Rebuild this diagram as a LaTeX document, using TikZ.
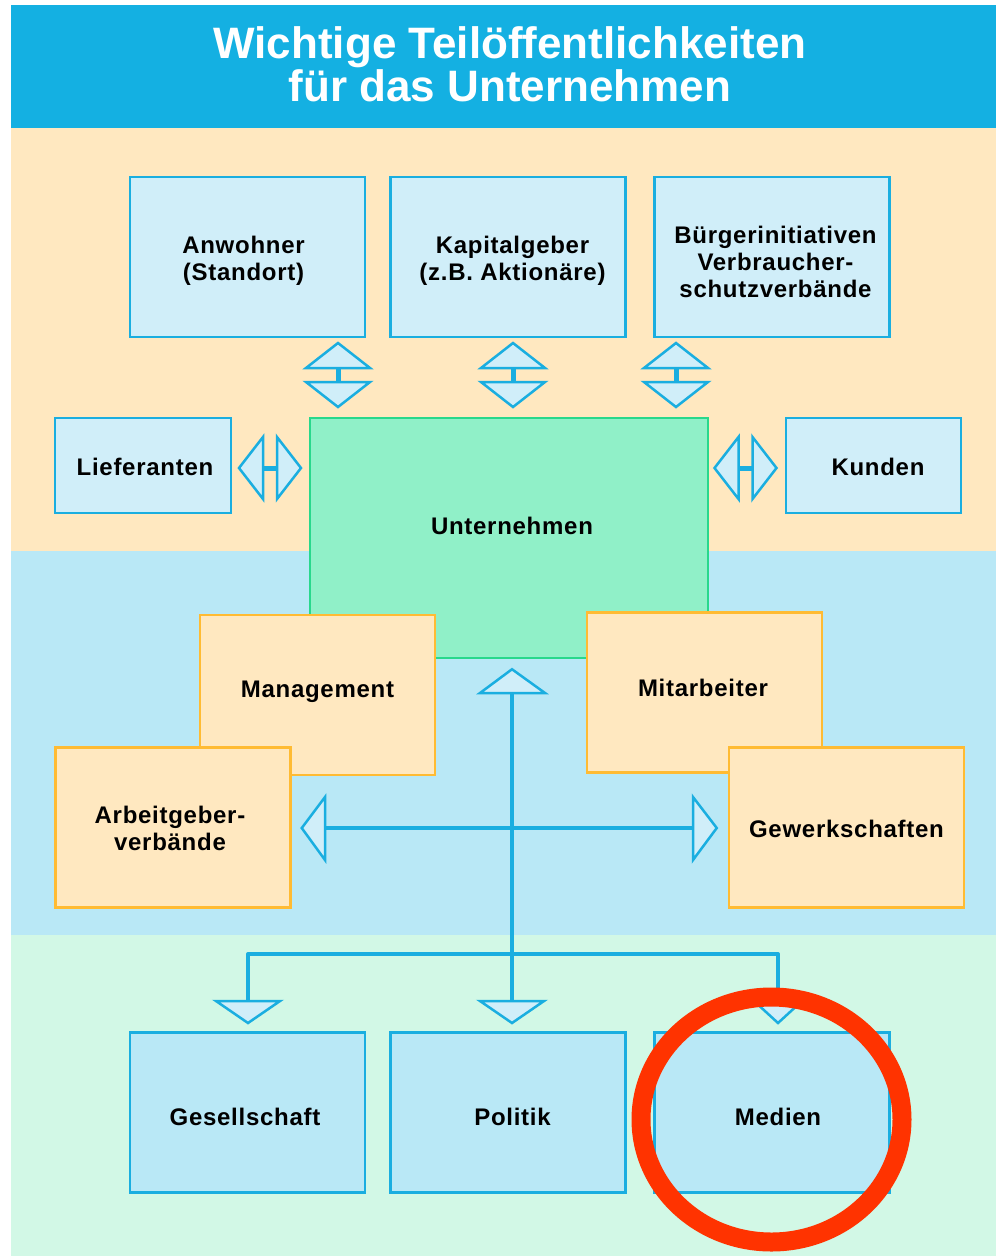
\documentclass[tikz,border=0pt]{standalone}
\usepackage{fontspec}
\setmainfont{Liberation Sans}
\usetikzlibrary{calc}
\definecolor{hdr}{RGB}{20,176,226}
\definecolor{beige}{RGB}{255,232,192}
\definecolor{midb}{RGB}{185,232,246}
\definecolor{botg}{RGB}{210,248,230}
\definecolor{lightbox}{RGB}{208,238,249}
\definecolor{cyanline}{RGB}{26,174,224}
\definecolor{untfill}{RGB}{144,240,200}
\definecolor{untline}{RGB}{40,216,140}
\definecolor{orline}{RGB}{255,187,51}
\definecolor{redring}{RGB}{255,51,0}
\newcommand\boxfont{\fontsize{24}{27}\selectfont\bfseries\addfontfeature{LetterSpace=3}}
\begin{document}
\begin{tikzpicture}[x=1pt,y=-1pt,
  basebox/.style={line width=2.5pt, inner sep=0pt},
  bluebox/.style={basebox, draw=cyanline, fill=lightbox},
  bottombox/.style={basebox, draw=cyanline, fill=midb},
  orbox/.style={basebox, draw=orline, fill=beige},
  untbox/.style={basebox, draw=untline, fill=untfill},
  big/.style={minimum width=235, minimum height=160},
  txt/.style={font=\boxfont, text=black, align=center, inner sep=0pt},
  tri/.style={draw=cyanline, fill=lightbox, line width=2.5pt, line join=miter},
  stem/.style={draw=cyanline, line width=5pt},
  conn/.style={draw=cyanline, line width=4pt},
  vdbl/.pic={
    \draw[stem] (0,-7) -- (0,7);
    \draw[tri] (-32,-7) -- (0,-32) -- (32,-7) -- cycle;
    \draw[tri] (-32,7) -- (0,32) -- (32,7) -- cycle;},
  hdbl/.pic={
    \draw[stem] (-7,0) -- (7,0);
    \draw[tri] (-7,-31) -- (-31,0) -- (-7,31) -- cycle;
    \draw[tri] (7,-31) -- (31,0) -- (7,31) -- cycle;}
]
\path[use as bounding box] (0,0) rectangle (996,1256);
\fill[white] (0,0) rectangle (996,1256);
% bands
\fill[hdr] (11,5) rectangle (996,128);
\fill[beige] (11,128) rectangle (996,551);
\fill[midb] (11,551) rectangle (996,935);
\fill[botg] (11,935) rectangle (996,1256);
% title
\node[anchor=base, text=white, font=\fontsize{44}{43}\selectfont\bfseries] (title1) at (510,58.5) {Wichtige Teilöffentlichkeiten};
\node[anchor=base, text=white, font=\fontsize{44}{43}\selectfont\bfseries] (title2) at (510,101.5) {für das Unternehmen};
% central company
\node[untbox, minimum width=398, minimum height=240,
  label={[txt, name=untT, xshift=3pt, yshift=12pt]center:Unternehmen}] (unt) at (509,538) {};
% orange boxes
\node[orbox, big, label={[txt, name=manT, yshift=3pt]center:Management}] (man) at (317.5,695) {};
\node[orbox, big, label={[txt, name=mitT, xshift=-1.5pt, yshift=5pt]center:Mitarbeiter}] (mit) at (704.5,692.5) {};
\node[orbox, big, label={[txt, name=agvT, xshift=-3pt, yshift=-1pt]center:{Arbeitgeber-\\verbände}}] (agv) at (173,827.5) {};
\node[orbox, big, label={[txt, name=gewT, yshift=-1pt]center:Gewerkschaften}] (gew) at (846.5,827.5) {};
% top boxes
\node[bluebox, big, label={[txt, name=anwT, xshift=-4pt, yshift=-4pt]center:{Anwohner\\(Standort)}}] (anw) at (247.5,257) {};
\node[bluebox, big, label={[txt, name=kapT, xshift=4.5pt, yshift=-4pt]center:{Kapitalgeber\\(z.B. Aktionäre)}}] (kap) at (508,257) {};
\node[bluebox, big, label={[txt, name=bueT, xshift=3.5pt, yshift=-5pt]center:{Bürgerinitiativen\\Verbraucher-\\schutzverbände}}] (bue) at (772,257) {};
\node[bluebox, minimum width=176, minimum height=95, label={[txt, name=lieT, xshift=2pt, yshift=-1pt]center:Lieferanten}] (lie) at (143,465.5) {};
\node[bluebox, minimum width=175, minimum height=95, label={[txt, name=kunT, xshift=4.5pt, yshift=-1pt]center:Kunden}] (kun) at (873.5,465.5) {};
% bottom boxes
\node[bottombox, big, label={[txt, name=gesT, xshift=-2.5pt, yshift=-4pt]center:Gesellschaft}] (ges) at (247.5,1112.5) {};
\node[bottombox, big, label={[txt, name=polT, xshift=4.5pt, yshift=-4pt]center:Politik}] (pol) at (508,1112.5) {};
\node[bottombox, big, label={[txt, name=medT, xshift=6pt, yshift=-4pt]center:Medien}] (med) at (772,1112.5) {};
% double arrows
\pic at (338,375) {vdbl};
\pic at (513,375) {vdbl};
\pic at (676,375) {vdbl};
\pic at (270,468) {hdbl};
\pic at (745.5,468) {hdbl};
% central connector structure
\coordinate (upbase) at (512,693);
\coordinate (hub) at (512,828);
\coordinate (split) at (512,954);
\coordinate (leftbase) at (325,828);
\coordinate (rightbase) at (693,828);
\coordinate (gesbase) at (248,1001);
\coordinate (polbase) at (512,1001);
\coordinate (medbase) at (778,1001);
\draw[conn] (upbase) -- (polbase);
\draw[conn] (leftbase) -- (rightbase);
\draw[conn, line join=round] (gesbase) -- (gesbase |- split) -- (medbase |- split) -- (medbase);
\draw[tri] ($(upbase)+(-32,0)$) -- ($(unt.south -| upbase)+(0,10)$) -- ($(upbase)+(33,0)$) -- cycle;
\draw[tri] ($(leftbase)+(0,-31)$) -- ($(agv.east |- hub)+(10,0)$) -- ($(leftbase)+(0,32)$) -- cycle;
\draw[tri] ($(rightbase)+(0,-31)$) -- ($(gew.west |- hub)+(-11,0)$) -- ($(rightbase)+(0,32)$) -- cycle;
\draw[tri] ($(gesbase)+(-32,0)$) -- ($(gesbase)+(0,22)$) -- ($(gesbase)+(32,0)$) -- cycle;
\draw[tri] ($(polbase)+(-32,0)$) -- ($(polbase)+(0,22)$) -- ($(polbase)+(32,0)$) -- cycle;
\draw[tri] ($(medbase)+(-24,0)$) -- ($(medbase)+(0,22)$) -- ($(medbase)+(24,0)$) -- cycle;
% red ring
\draw[redring, line width=19pt] (771.5,1119.5) ellipse [x radius=130.5, y radius=122.5];
\end{tikzpicture}
\end{document}
